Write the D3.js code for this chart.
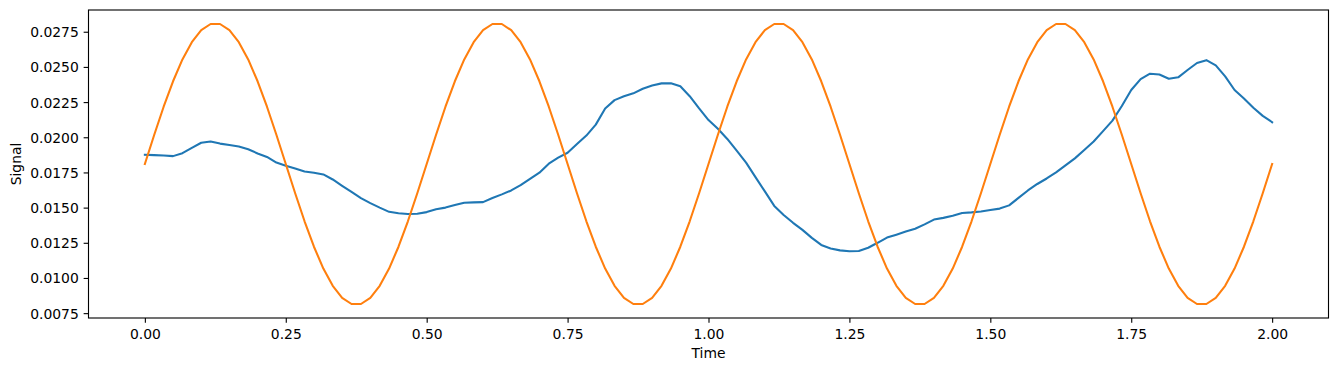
<!DOCTYPE html>
<html>
<head>
<meta charset="utf-8">
<script src="https://cdn.jsdelivr.net/npm/d3@7"></script>
<style>
    body { margin: 0; background: #fff; }
    text { font-family: "DejaVu Sans", sans-serif; }
</style>
</head>
<body>
<div id="chart"></div>
<script>
var consts = {
    width: 1338,
    height: 371,
    left: 88.5,
    right: 1328.5,
    top: 10,
    bottom: 318,
    fontSize: 13.9
};

// sampled 121 times between 0 and 2 seconds
var timeStart = 0;
var timeEnd = 2;

// slow blue signal
var signalA = [
    0.01875, 0.01873, 0.01870, 0.01866, 0.01887, 0.01925, 0.01961, 0.01970, 0.01955, 0.01945,
    0.01935, 0.01915, 0.01885, 0.01860, 0.01820, 0.01798, 0.01778, 0.01757, 0.01748, 0.01736,
    0.01700, 0.01655, 0.01612, 0.01568, 0.01532, 0.01500, 0.01470, 0.01460, 0.01455, 0.01456,
    0.01468, 0.01488, 0.01500, 0.01518, 0.01535, 0.01537, 0.01539, 0.01568, 0.01594, 0.01622,
    0.01660, 0.01705, 0.01748, 0.01812, 0.01855, 0.01890, 0.01952, 0.02012, 0.02090, 0.02205,
    0.02264, 0.02291, 0.02312, 0.02345, 0.02368, 0.02383, 0.02384, 0.02362, 0.02292, 0.02205,
    0.02122, 0.02060, 0.01988, 0.01905, 0.01820, 0.01717, 0.01615, 0.01512, 0.01448, 0.01392,
    0.01342, 0.01285, 0.01235, 0.01210, 0.01196, 0.01190, 0.01192, 0.01215, 0.01250, 0.01287,
    0.01308, 0.01330, 0.01350, 0.01381, 0.01415, 0.01427, 0.01442, 0.01462, 0.01466, 0.01472,
    0.01483, 0.01493, 0.01516, 0.01569, 0.01622, 0.01668, 0.01707, 0.01750, 0.01800, 0.01850,
    0.01910, 0.01970, 0.02044, 0.02118, 0.02222, 0.02336, 0.02413, 0.02452, 0.02446, 0.02416,
    0.02426, 0.02478, 0.02528, 0.02548, 0.02511, 0.02433, 0.02336, 0.02276, 0.02210, 0.02152,
    0.02107
];

// orange oscillation
var signalB = [
    0.01810, 0.02018, 0.02217, 0.02398, 0.02553, 0.02676, 0.02761, 0.02805, 0.02805, 0.02761,
    0.02676, 0.02553, 0.02398, 0.02217, 0.02018, 0.01810, 0.01602, 0.01403, 0.01222, 0.01067,
    0.00944, 0.00859, 0.00815, 0.00815, 0.00859, 0.00944, 0.01067, 0.01222, 0.01403, 0.01602,
    0.01810, 0.02018, 0.02217, 0.02398, 0.02553, 0.02676, 0.02761, 0.02805, 0.02805, 0.02761,
    0.02676, 0.02553, 0.02398, 0.02217, 0.02018, 0.01810, 0.01602, 0.01403, 0.01222, 0.01067,
    0.00944, 0.00859, 0.00815, 0.00815, 0.00859, 0.00944, 0.01067, 0.01222, 0.01403, 0.01602,
    0.01810, 0.02018, 0.02217, 0.02398, 0.02553, 0.02676, 0.02761, 0.02805, 0.02805, 0.02761,
    0.02676, 0.02553, 0.02398, 0.02217, 0.02018, 0.01810, 0.01602, 0.01403, 0.01222, 0.01067,
    0.00944, 0.00859, 0.00815, 0.00815, 0.00859, 0.00944, 0.01067, 0.01222, 0.01403, 0.01602,
    0.01810, 0.02018, 0.02217, 0.02398, 0.02553, 0.02676, 0.02761, 0.02805, 0.02805, 0.02761,
    0.02676, 0.02553, 0.02398, 0.02217, 0.02018, 0.01810, 0.01602, 0.01403, 0.01222, 0.01067,
    0.00944, 0.00859, 0.00815, 0.00815, 0.00859, 0.00944, 0.01067, 0.01222, 0.01403, 0.01602,
    0.01810
];

var xTicks = [0, 0.25, 0.5, 0.75, 1, 1.25, 1.5, 1.75, 2];
var yTicks = [0.0075, 0.01, 0.0125, 0.015, 0.0175, 0.02, 0.0225, 0.025, 0.0275];
var colors = ['#1f77b4', '#ff7f0e'];

var svg = d3.select('#chart').append('svg')
    .attr('width', consts.width)
    .attr('height', consts.height);

/**
 * Pads a [min, max] extent by 5% on both sides, like matplotlib does.
 */
function pad(extent) {
    var m = (extent[1] - extent[0]) * 0.05;
    return [extent[0] - m, extent[1] + m];
}

function toPoints(values) {
    var step = (timeEnd - timeStart) / (values.length - 1);
    return values.map((v, i) => ({ t: timeStart + i * step, v: v }));
}

var series = [toPoints(signalA), toPoints(signalB)];

var x = d3.scaleLinear()
    .domain(pad([timeStart, timeEnd]))
    .range([consts.left, consts.right]);

var y = d3.scaleLinear()
    .domain(pad(d3.extent(signalA.concat(signalB))))
    .range([consts.bottom, consts.top]);

var line = d3.line()
    .x(function (d) { return x(d.t) })
    .y(function (d) { return y(d.v) });

svg.append('clipPath').attr('id', 'plot')
    .append('rect')
    .attr('x', consts.left).attr('y', consts.top)
    .attr('width', consts.right - consts.left)
    .attr('height', consts.bottom - consts.top);

svg.append('g').attr('clip-path', 'url(#plot)')
    .selectAll('path')
    .data(series)
    .enter()
    .append('path')
    .attr('d', line)
    .attr('fill', 'none')
    .attr('stroke', function (d, i) { return colors[i] })
    .attr('stroke-width', 2.08)
    .attr('stroke-linejoin', 'round')
    .attr('stroke-linecap', 'square');

// axes
var xAxis = svg.append('g')
    .attr('transform', 'translate(0,' + consts.bottom + ')')
    .call(d3.axisBottom(x).tickValues(xTicks).tickFormat(d3.format('.2f')).tickSizeInner(4.86).tickSizeOuter(0).tickPadding(4.86));

var yAxis = svg.append('g')
    .attr('transform', 'translate(' + consts.left + ',0)')
    .call(d3.axisLeft(y).tickValues(yTicks).tickFormat(d3.format('.4f')).tickSizeInner(4.86).tickSizeOuter(0).tickPadding(4.86));

[xAxis, yAxis].forEach(function (g) {
    g.select('.domain').remove();
    g.selectAll('line').attr('stroke', '#000').attr('stroke-width', 1.11);
    g.selectAll('text')
        .attr('fill', '#000')
        .style('font-family', '"DejaVu Sans", sans-serif')
        .style('font-size', consts.fontSize + 'px');
});
xAxis.selectAll('text').attr('y', 21.4).attr('dy', null);
yAxis.selectAll('text').attr('dy', '0.36em');

// frame
svg.append('rect')
    .attr('x', consts.left).attr('y', consts.top)
    .attr('width', consts.right - consts.left)
    .attr('height', consts.bottom - consts.top)
    .attr('fill', 'none')
    .attr('stroke', '#000')
    .attr('stroke-width', 1.11);

svg.append('text')
    .text('Time')
    .attr('x', (consts.left + consts.right) / 2)
    .attr('y', 358)
    .attr('text-anchor', 'middle')
    .style('font-size', consts.fontSize + 'px');

svg.append('text')
    .text('Signal')
    .attr('transform', 'translate(21,' + (consts.top + consts.bottom) / 2 + ') rotate(-90)')
    .attr('text-anchor', 'middle')
    .style('font-size', consts.fontSize + 'px');
</script>
</body>
</html>
